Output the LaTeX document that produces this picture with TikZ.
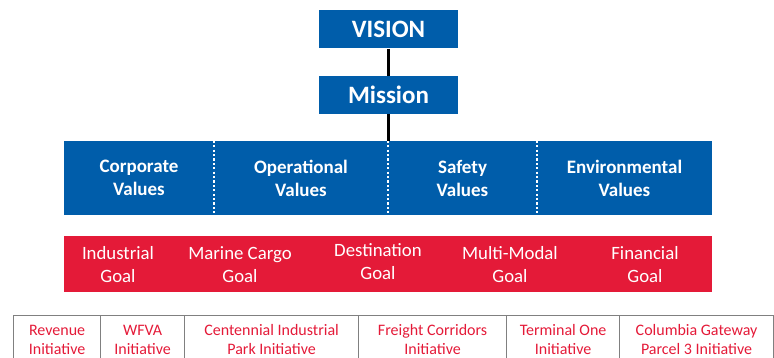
\documentclass[tikz,border=0pt]{standalone}
\usepackage{fontspec}
\setmainfont{Carlito}
\definecolor{portblue}{RGB}{0,93,170}
\definecolor{portred}{RGB}{228,26,56}

\begin{document}
\begin{tikzpicture}[x=1pt, y=-1pt,
                    top node/.style={rectangle, fill=portblue, text=white, inner sep=0pt,
                      font=\bfseries\fontsize{25}{27}\selectfont, minimum width=139pt, minimum height=38pt},
                    value node/.style={rectangle, fill=portblue, text=white, inner sep=0pt, align=center,
                      font=\bfseries\fontsize{19}{23}\selectfont, minimum height=74pt},
                    goal text/.style={text=white, align=center, font=\fontsize{18.8}{23}\selectfont},
                    init node/.style={rectangle, draw=gray, line width=1.2pt, text=portred, inner sep=0pt,
                      align=center, font=\fontsize{16}{19}\selectfont, minimum height=48pt, anchor=north west},
                    divider/.style={white, line width=2.2pt, dash pattern=on 2.2pt off 2.2pt}]

  \useasboundingbox (0,0) rectangle (774,358);
  \clip (0,0) rectangle (774,358);

  \node[top node] (vision) at (388.5, 29.5) {VISION};
  \node[top node] (mission) at (388.5, 95) {Mission};

  \node[value node, minimum width=150pt] (corp) at (139, 178) {Corporate\\Values};
  \node[value node, minimum width=174pt] (oper) at (301, 178) {Operational\\Values};
  \node[value node, minimum width=149pt] (safe) at (462.5, 178) {Safety\\Values};
  \node[value node, minimum width=175pt] (env) at (624.5, 178) {Environmental\\Values};

  \node[rectangle, fill=portred, minimum width=648pt, minimum height=56pt] (goals) at (388, 264) {};
  \node[goal text] (indgoal) at (118, 264.5) {Industrial\\Goal};
  \node[goal text] (margoal) at (240, 264.5) {Marine Cargo\\Goal};
  \node[goal text] (destgoal) at (378, 261.5) {Destination\\Goal};
  \node[goal text] (multigoal) at (510, 264.5) {Multi-Modal\\Goal};
  \node[goal text] (fingoal) at (645, 264.5) {Financial\\Goal};

  \node[init node, minimum width=87pt] (rev) at (13, 315) {Revenue\\Initiative};
  \node[init node, minimum width=84pt] (wfva) at (100, 315) {WFVA\\Initiative};
  \node[init node, minimum width=174pt] (cent) at (184, 315) {Centennial Industrial\\Park Initiative};
  \node[init node, minimum width=148pt] (freight) at (358, 315) {Freight Corridors\\Initiative};
  \node[init node, minimum width=113pt] (term) at (506, 315) {Terminal One\\Initiative};
  \node[init node, minimum width=154pt] (colgate) at (619, 315) {Columbia Gateway\\Parcel 3 Initiative};

  \draw[line width=2.5pt] (vision) -- (mission);
  \draw[line width=2.5pt] (mission.south) -- (mission.south |- oper.north east);

  \draw[divider] (corp.north east) -- (corp.south east);
  \draw[divider] (oper.north east) -- (oper.south east);
  \draw[divider] (safe.north east) -- (safe.south east);

\end{tikzpicture}
\end{document}
